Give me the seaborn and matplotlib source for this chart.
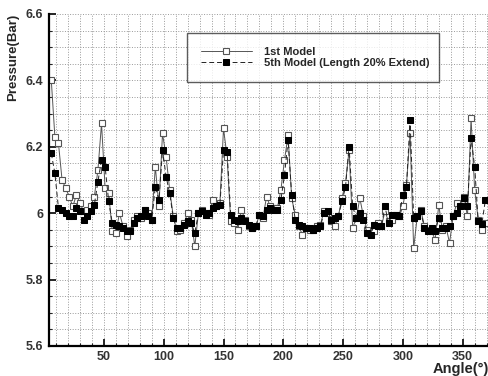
import numpy as np
import pandas as pd
import seaborn as sns
import matplotlib.pyplot as plt
from matplotlib.ticker import MultipleLocator, FuncFormatter

# crank angle samples (deg)
angle = list(range(6, 370, 3))

# 1st Model (open squares)
model_1st = [
    6.40, 6.23, 6.21, 6.10, 6.075, 6.05, 6.02, 6.055, 6.03, 6.005,
    6.01, 6.02, 6.05, 6.13, 6.27, 6.075, 6.06, 5.945, 5.94, 6.0,
    5.96, 5.93, 5.95, 5.98, 5.99, 5.985, 6.01, 6.0, 5.98, 6.14,
    6.02, 6.24, 6.17, 6.07, 5.99, 5.945, 5.95, 5.97, 6.0, 5.98,
    5.90, 6.0, 6.01, 6.0, 5.995, 6.04, 6.02, 6.03, 6.255, 6.17,
    5.975, 5.97, 5.95, 6.01, 5.98, 5.96, 5.955, 5.96, 5.995, 5.985,
    6.05, 6.02, 6.015, 6.015, 6.07, 6.16, 6.235, 6.045, 5.995, 5.96,
    5.935, 5.955, 5.95, 5.95, 5.96, 5.965, 6.005, 6.0, 5.975, 5.96,
    5.99, 6.045, 6.09, 6.19, 5.955, 5.985, 6.045, 5.99, 5.95, 5.94,
    5.945, 5.97, 5.96, 6.005, 5.975, 5.98, 5.995, 5.99, 6.02, 6.085,
    6.24, 5.894, 5.99, 6.01, 5.96, 5.95, 5.945, 5.92, 6.025, 5.95,
    5.96, 5.91, 5.99, 6.03, 6.02, 6.05, 5.99, 6.286, 6.07, 5.98,
    5.95, 5.97,
]

# 5th Model, length 20% extend (filled squares)
model_5th = [
    6.18, 6.12, 6.015, 6.01, 6.0, 5.99, 5.99, 6.015, 6.005, 5.978,
    5.99, 6.005, 6.025, 6.095, 6.16, 6.14, 6.035, 5.97, 5.965, 5.96,
    5.955, 5.945, 5.945, 5.97, 5.985, 5.99, 6.01, 5.99, 5.98, 6.08,
    6.04, 6.19, 6.11, 6.06, 5.985, 5.955, 5.955, 5.965, 5.975, 5.97,
    5.94, 6.0, 6.005, 5.995, 6.0, 6.015, 6.02, 6.025, 6.19, 6.185,
    5.995, 5.98, 5.975, 5.985, 5.975, 5.965, 5.955, 5.96, 5.995, 5.99,
    6.01, 6.015, 6.01, 6.01, 6.04, 6.115, 6.22, 6.055, 5.98, 5.965,
    5.96, 5.955, 5.955, 5.95, 5.955, 5.96, 6.0, 6.005, 5.98, 5.985,
    5.99, 6.035, 6.078, 6.20, 6.02, 5.985, 6.0, 5.98, 5.94, 5.935,
    5.965, 5.96, 5.96, 6.02, 5.97, 5.995, 5.995, 5.99, 6.055, 6.08,
    6.28, 5.985, 5.99, 6.005, 5.955, 5.945, 5.955, 5.945, 5.985, 5.955,
    5.955, 5.96, 5.99, 6.0, 6.02, 6.045, 6.02, 6.226, 6.14, 5.975,
    5.967, 6.04,
]

x_ticks = [50, 100, 150, 200, 250, 300, 350]
y_ticks = [5.6, 5.8, 6.0, 6.2, 6.4, 6.6]

df = pd.DataFrame({'Angle': angle, 'first': model_1st, 'fifth': model_5th})

sns.set_style('ticks')
plt.rcParams['font.family'] = ['Liberation Sans', 'DejaVu Sans']

fig = plt.figure(figsize=(4.89, 3.76), dpi=100)
ax = fig.add_axes([0.1, 0.08, 0.9, 0.883])

sns.lineplot(data=df, x='Angle', y='first', ax=ax, color='#555555', lw=0.7,
             marker='s', markersize=5, markerfacecolor='white',
             markeredgecolor='#555555', markeredgewidth=0.8, label='1st Model')
sns.lineplot(data=df, x='Angle', y='fifth', ax=ax, color='#222222', lw=0.7,
             linestyle=(0, (5, 3)), marker='s', markersize=5,
             markerfacecolor='black', markeredgecolor='black',
             label='5th Model (Length 20% Extend)')

ax.set_xlim(4, 372)
ax.set_ylim(5.6, 6.6)
ax.set_xticks(x_ticks)
ax.set_yticks(y_ticks)
ax.xaxis.set_minor_locator(MultipleLocator(10))
ax.yaxis.set_minor_locator(MultipleLocator(0.05))
ax.yaxis.set_major_formatter(FuncFormatter(lambda v, p: f'{v:g}'))

ax.grid(which='both', linestyle=':', color='#999999', lw=0.7)
ax.set_axisbelow(True)

for side in ['top', 'right']:
    ax.spines[side].set_visible(False)
for side in ['left', 'bottom']:
    ax.spines[side].set_linewidth(1.6)
    ax.spines[side].set_color('black')

ax.tick_params(which='major', direction='in', length=5, width=1.4, labelsize=9,
               labelcolor='#333333', pad=4)
ax.tick_params(which='minor', direction='in', length=2.5, width=0.8)
for lab in ax.get_xticklabels() + ax.get_yticklabels():
    lab.set_fontweight('bold')

ax.set_xlabel('Angle(°)', loc='right', fontsize=10.5, fontweight='bold', labelpad=-1)
ax.set_ylabel('Pressure(Bar)', loc='top', fontsize=9.5, fontweight='bold', labelpad=5)

leg = ax.legend(loc='upper left', bbox_to_anchor=(0.313, 0.80, 0.573, 0.143),
                mode='expand', borderaxespad=0, fontsize=8, handlelength=4.6,
                borderpad=1.25, labelspacing=0.1, frameon=True, fancybox=False,
                handletextpad=1.1)
leg.get_frame().set_edgecolor('#333333')
leg.get_frame().set_linewidth(1.0)
for t in leg.get_texts():
    t.set_fontweight('bold')

fig.savefig('out.png', dpi=100)
